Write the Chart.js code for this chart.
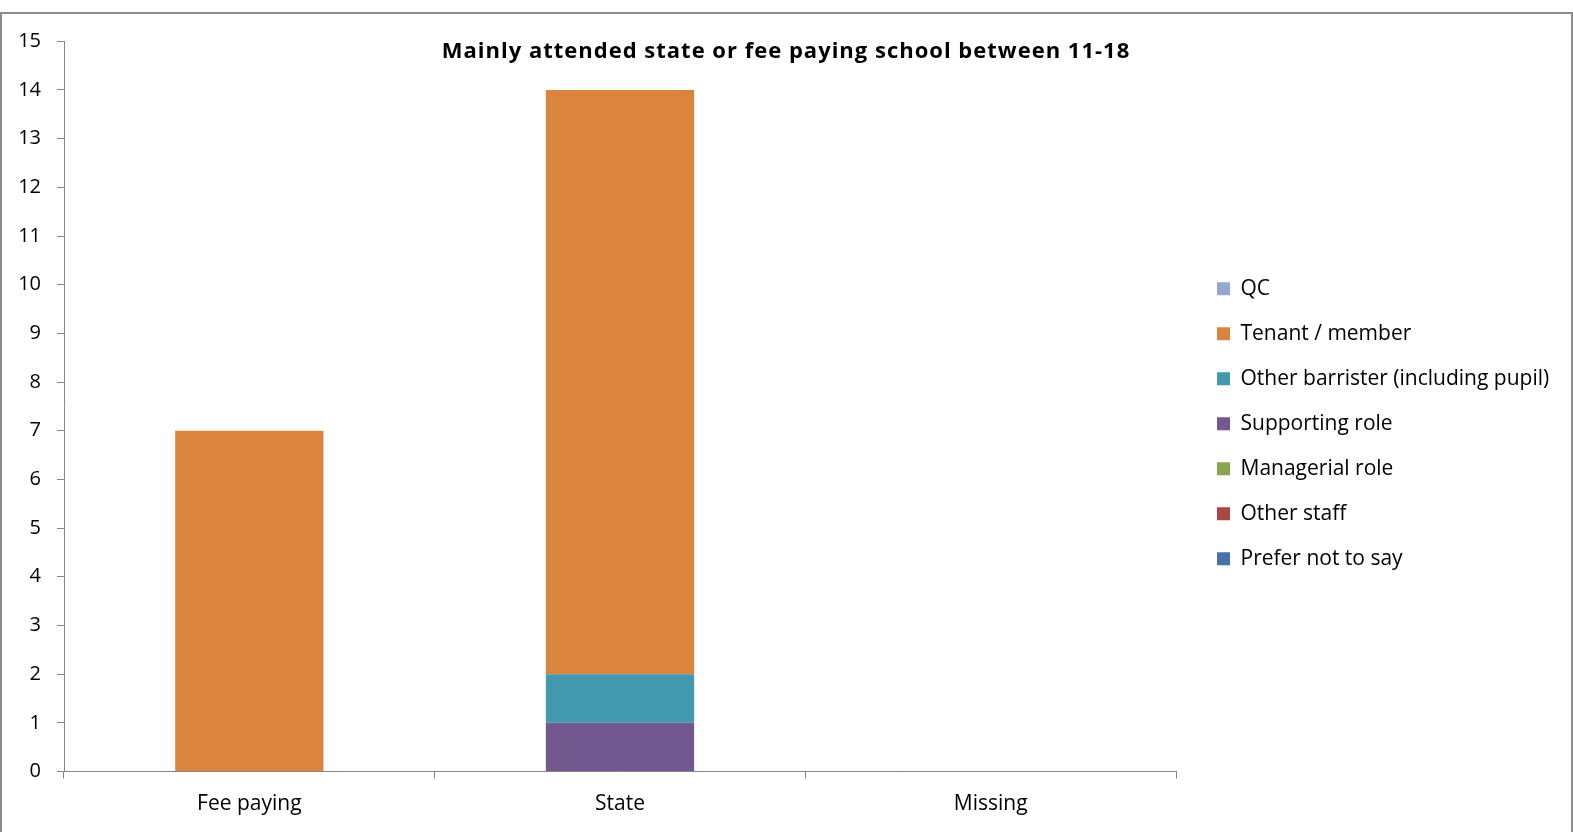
<!DOCTYPE html>
<html>
<head>
<meta charset="utf-8">
<script src="https://cdn.jsdelivr.net/npm/chart.js@4/dist/chart.umd.min.js"></script>
<style>
  html, body { margin: 0; padding: 0; background: #ffffff; }
  body { width: 1573px; height: 832px; position: relative; overflow: hidden; }
  #frame { position: absolute; left: 0; top: 12px; width: 1573px; height: 840px; box-sizing: border-box; border: 2px solid #8c8c8c; }
  #wrap { position: absolute; left: 0; top: 0; width: 1573px; height: 832px; }
</style>
</head>
<body>
<div id="frame"></div>
<div id="wrap"><canvas id="chart" width="1573" height="832"></canvas></div>
<script>
const chartTitle = 'Mainly attended state or fee paying school between 11-18';
const categories = ['Fee paying', 'State', 'Missing'];
const yTicks = [0, 1, 2, 3, 4, 5, 6, 7, 8, 9, 10, 11, 12, 13, 14, 15];

// Stack order bottom -> top
const preferNotToSay = [0, 0, 0];
const otherStaff = [0, 0, 0];
const managerialRole = [0, 0, 0];
const supportingRole = [0, 1, 0];
const otherBarrister = [0, 1, 0];
const tenantMember = [7, 12, 0];
const qc = [0, 0, 0];

const seriesNames = ['Prefer not to say', 'Other staff', 'Managerial role', 'Supporting role',
  'Other barrister (including pupil)', 'Tenant / member', 'QC'];
const seriesValues = [preferNotToSay, otherStaff, managerialRole, supportingRole, otherBarrister, tenantMember, qc];
const seriesColors = ['#4572A7', '#AA4643', '#89A54E', '#71588F', '#4198AF', '#DB843D', '#93A9CF'];

const FONT = "'Open Sans'";
const axisColor = '#868686';

const datasets = seriesNames.map((name, i) => ({
  label: name,
  data: seriesValues[i],
  backgroundColor: seriesColors[i],
  borderWidth: 0,
  categoryPercentage: 1.0,
  barPercentage: 0.4
}));

const layoutTweaks = {
  id: 'layoutTweaks',
  afterLayout(chart) {
    const lg = chart.legend;
    if (lg) {
      lg.left += 17; lg.right += 17;
      lg.top -= 13; lg.bottom -= 13;
    }
  },
  afterDraw(chart) {
    const ctx = chart.ctx;
    ctx.save();
    ctx.font = 'bold 22px ' + FONT;
    if ('letterSpacing' in ctx) ctx.letterSpacing = '1px';
    ctx.fillStyle = '#000000';
    ctx.textAlign = 'center';
    ctx.textBaseline = 'middle';
    ctx.fillText(chartTitle, 786, 52);
    ctx.restore();
  }
};

const legendFix = {
  id: 'legendFix',
  afterInit(chart) {
    const lg = chart.legend;
    if (lg) {
      const origFit = lg.fit;
      lg.fit = function () {
        origFit.call(lg);
        lg.width = 1573 - 1176;
      };
    }
  }
};

new Chart(document.getElementById('chart'), {
  type: 'bar',
  data: { labels: categories, datasets: datasets },
  plugins: [legendFix, layoutTweaks],
  options: {
    responsive: false,
    animation: false,
    layout: { padding: { top: 41.3, left: 0, right: 0, bottom: 0 } },
    plugins: {
      title: { display: false },
      tooltip: { enabled: false },
      legend: {
        display: true,
        position: 'right',
        align: 'center',
        reverse: true,
        labels: {
          boxWidth: 13,
          boxHeight: 13,
          padding: 24,
          color: '#000000',
          font: { family: FONT, size: 21 }
        }
      }
    },
    scales: {
      x: {
        stacked: true,
        offset: true,
        grid: { display: true, drawOnChartArea: false, drawTicks: true, tickLength: 7, offset: true, color: axisColor, tickWidth: 1 },
        border: { display: true, color: axisColor, width: 1 },
        ticks: { color: '#000000', font: { family: FONT, size: 21 }, padding: 13, maxRotation: 0 },
        afterFit(scale) { scale.height = 832 - 771.5; }
      },
      y: {
        stacked: true,
        min: 0,
        max: 15,
        afterBuildTicks(scale) { scale.ticks = yTicks.map(v => ({ value: v })); },
        grid: { display: true, drawOnChartArea: false, drawTicks: true, tickLength: 7, color: axisColor, tickWidth: 1 },
        border: { display: true, color: axisColor, width: 1 },
        ticks: { color: '#000000', font: { family: FONT, size: 20 }, padding: 16 },
        afterFit(scale) { scale.width = 64; }
      }
    }
  }
});
</script>
</body>
</html>
